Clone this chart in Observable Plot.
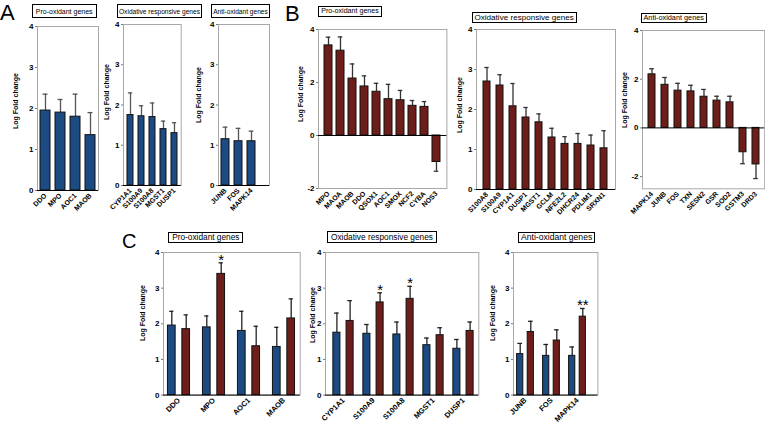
<!DOCTYPE html>
<html><head><meta charset="utf-8">
<script src="https://cdn.jsdelivr.net/npm/d3@7"></script>
<script src="https://cdn.jsdelivr.net/npm/@observablehq/plot@0.6"></script>
<style>
body{margin:0;background:#fff;}
#fig{position:relative;width:765px;height:422px;overflow:hidden;background:#fff;font-family:"Liberation Sans",Arial,sans-serif;}
.title{position:absolute;border:1px solid #000;box-sizing:border-box;display:flex;align-items:center;justify-content:center;white-space:nowrap;background:#fff;color:#000;font-weight:normal;}
.ylab{position:absolute;transform:translate(-50%,-50%) rotate(-90deg);font-weight:bold;font-size:7px;white-space:nowrap;color:#000;}
.letter{position:absolute;line-height:1.15;color:#000;font-weight:normal;}
</style></head>
<body><div id="fig"></div>
<script>
// ---------- data ----------
const aProGenes = ["DDO","MPO","AOC1","MAOB"];
const aProValues = [1.95,1.90,1.80,1.35];
const aProErrors = [0.40,0.32,0.55,0.55];
const aOxiGenes = ["CYP1A1","S100A9","S100A8","MGST1","DUSP1"];
const aOxiValues = [1.75,1.72,1.70,1.40,1.30];
const aOxiErrors = [0.55,0.26,0.35,0.20,0.26];
const aAntiGenes = ["JUNB","FOS","MAPK14"];
const aAntiValues = [1.15,1.10,1.10];
const aAntiErrors = [0.30,0.32,0.25];

const bProGenes = ["MPO","MAOA","MAOB","DDO","QSOX1","AOC1","SMOX","NCF2","CYBA","NOS3"];
const bProValues = [3.40,3.20,2.15,1.85,1.65,1.37,1.33,1.12,1.08,-1.00];
const bProErrors = [0.31,0.52,0.55,0.40,0.32,0.56,0.37,0.20,0.20,0.35];
const bOxiGenes = ["S100A8","S100A9","CYP1A1","DUSP1","MGST1","GCLM","NFE2L2","DHCR24","PDLIM1","SRXN1"];
const bOxiValues = [2.70,2.60,2.08,1.80,1.68,1.30,1.14,1.14,1.10,1.03];
const bOxiErrors = [0.35,0.27,0.57,0.25,0.21,0.23,0.18,0.26,0.26,0.44];
const bAntiGenes = ["MAPK14","JUNB","FOS","TXN","SESN2","GSR","SOD2","GSTM3","DRD3"];
const bAntiValues = [2.20,1.77,1.53,1.50,1.28,1.12,1.05,-1.00,-1.50];
const bAntiErrors = [0.23,0.30,0.30,0.25,0.30,0.18,0.25,0.47,0.58];

const cProStars = ["","*","",""];
const cOxiStars = ["","*","*","",""];
const cAntiStars = ["","","**"];

const yTicks04 = [0,1,2,3,4];
const yTicksB = [-2,0,2,4];
const yLabel = "Log Fold change";

// ---------- helpers ----------
const BLUE = "#1c4a82", RED = "#6d1e1b";
const fig = document.getElementById("fig");
const M = {top: 10, right: 8, bottom: 45, left: 28};
const STYLE = {background:"transparent", overflow:"visible", fontFamily:"'Liberation Sans', Arial, sans-serif", fontWeight:"bold", fontSize:"8px", color:"#000"};

function rows(genes, values, errors, stars) {
  return genes.map((g, i) => ({gene: g, value: values[i], hi: values[i] + Math.sign(values[i]) * errors[i], star: stars ? stars[i] : ""}));
}
function mount(svg, l, t) {
  svg.style.position = "absolute";
  svg.style.left = (l - M.left) + "px";
  svg.style.top = (t - M.top) + "px";
  fig.appendChild(svg);
}
function axes(yTicks, xFont) {
  return [
    Plot.axisY({ticks: yTicks, tickSize: 2, tickPadding: 2, tickFormat: d => String(d), stroke: "#777", fill: "#000", fontSize: 8, fontWeight: "bold", label: null}),
    Plot.axisX({tickRotate: -45, tickSize: 0, tickPadding: 4, fontSize: xFont, fontWeight: "bold", fill: "#000", label: null})
  ];
}

function simplePanel({genes, values, errors, color, frame, span, yDomain, yTicks, pad, errColor, xFont}) {
  const [l, r, t, b] = frame;
  const data = rows(genes, values, errors);
  const sp = span || [l, r];
  const range = [M.left + sp[0] - l, M.left + sp[1] - l];
  const step = (range[1] - range[0]) / genes.length;
  const bw = step * (1 - pad);
  const capIn = Math.max(0, (bw - 5) / 2);
  const svg = Plot.plot({
    width: r - l + M.left + M.right, height: b - t + M.top + M.bottom,
    marginTop: M.top, marginRight: M.right, marginBottom: M.bottom, marginLeft: M.left,
    style: STYLE,
    x: {type: "band", domain: genes, range, paddingInner: pad, paddingOuter: pad / 2},
    y: {domain: yDomain},
    marks: [
      Plot.frame({stroke: "#a8a8a8"}),
      Plot.ruleX(data, {x: "gene", y1: "value", y2: "hi", stroke: errColor, strokeWidth: 1.3}),
      Plot.tickY(data, {x: "gene", y: "hi", stroke: errColor, strokeWidth: 1.3, inset: capIn}),
      Plot.barY(data, {x: "gene", y1: 0, y2: "value", fill: color, stroke: "#111", strokeWidth: 1}),
      Plot.ruleY([0], {stroke: "#000", strokeWidth: 1}),
      ...axes(yTicks, xFont)
    ]
  });
  mount(svg, l, t);
}

function lookup(genes, srcGenes, srcValues, srcErrors) {
  const vals = genes.map(g => srcValues[srcGenes.indexOf(g)]);
  const errs = genes.map(g => srcErrors[srcGenes.indexOf(g)]);
  return [vals, errs];
}

function groupPanel({genes, blue, red, stars, frame, span, barW, off, xFont}) {
  const [l, r, t, b] = frame;
  const dBlue = rows(genes, blue[0], blue[1]);
  const dRed = rows(genes, red[0], red[1], stars);
  const sp = span || [l, r];
  const range = [M.left + sp[0] - l, M.left + sp[1] - l];
  const step = (range[1] - range[0]) / genes.length;
  const ins = (step - barW) / 2;
  const capIn = (step - 5) / 2;
  const series = [[dBlue, BLUE, -off], [dRed, RED, off]];
  const marks = [Plot.frame({stroke: "#a8a8a8"})];
  for (const [d, c, dx] of series) {
    marks.push(
      Plot.ruleX(d, {x: "gene", y1: "value", y2: "hi", dx, stroke: "#222", strokeWidth: 1.3}),
      Plot.tickY(d, {x: "gene", y: "hi", dx, stroke: "#222", strokeWidth: 1.3, inset: capIn}),
      Plot.barY(d, {x: "gene", y1: 0, y2: "value", dx, fill: c, stroke: "#111", strokeWidth: 1, insetLeft: ins, insetRight: ins})
    );
  }
  marks.push(
    Plot.text(dRed.filter(d => d.star), {x: "gene", y: "hi", text: "star", dx: off, dy: 2, lineAnchor: "bottom", fontSize: 15, fontWeight: "normal", fill: "#000"}),
    Plot.ruleY([0], {stroke: "#000", strokeWidth: 1}),
    ...axes(yTicks04, xFont)
  );
  const svg = Plot.plot({
    width: r - l + M.left + M.right, height: b - t + M.top + M.bottom,
    marginTop: M.top, marginRight: M.right, marginBottom: M.bottom, marginLeft: M.left,
    style: STYLE,
    x: {type: "band", domain: genes, range, paddingInner: 0, paddingOuter: 0},
    y: {domain: [0, 4]},
    marks
  });
  mount(svg, l, t);
}

function title(text, x, y, w, h, fs) {
  const d = document.createElement("div");
  d.className = "title";
  Object.assign(d.style, {left: x + "px", top: y + "px", width: w + "px", height: h + "px", fontSize: fs + "px"});
  d.textContent = text;
  fig.appendChild(d);
}
function ylab(x, y) {
  const d = document.createElement("div");
  d.className = "ylab";
  Object.assign(d.style, {left: x + "px", top: y + "px"});
  d.textContent = yLabel;
  fig.appendChild(d);
}
function letter(text, x, y, fs) {
  const d = document.createElement("div");
  d.className = "letter";
  Object.assign(d.style, {left: x + "px", top: y + "px", fontSize: fs + "px"});
  d.textContent = text;
  fig.appendChild(d);
}

// ---------- Panel A ----------
simplePanel({genes: aProGenes, values: aProValues, errors: aProErrors, color: BLUE, frame: [37.3, 98.3, 26, 190], yDomain: [0, 4], yTicks: yTicks04, pad: 0.34, errColor: "#555", xFont: 7});
simplePanel({genes: aOxiGenes, values: aOxiValues, errors: aOxiErrors, color: BLUE, frame: [123.3, 181, 24, 185], yDomain: [0, 4], yTicks: yTicks04, pad: 0.42, errColor: "#555", xFont: 7});
simplePanel({genes: aAntiGenes, values: aAntiValues, errors: aAntiErrors, color: BLUE, frame: [218.3, 269.3, 24, 185], span: [218.3, 259], yDomain: [0, 4], yTicks: yTicks04, pad: 0.39, errColor: "#555", xFont: 7});

// ---------- Panel B ----------
simplePanel({genes: bProGenes, values: bProValues, errors: bProErrors, color: RED, frame: [318.3, 446.7, 29.3, 188.3], yDomain: [-2, 4], yTicks: yTicksB, pad: 0.34, errColor: "#333", xFont: 7});
simplePanel({genes: bOxiGenes, values: bOxiValues, errors: bOxiErrors, color: RED, frame: [476, 615, 29.3, 189.3], yDomain: [0, 4], yTicks: yTicks04, pad: 0.45, errColor: "#333", xFont: 7});
simplePanel({genes: bAntiGenes, values: bAntiValues, errors: bAntiErrors, color: RED, frame: [642.3, 764.5, 30, 188.3], yDomain: [-2.5, 4], yTicks: yTicksB, pad: 0.46, errColor: "#333", xFont: 7});

// ---------- Panel C ----------
groupPanel({genes: aProGenes, blue: [aProValues, aProErrors], red: lookup(aProGenes, bProGenes, bProValues, bProErrors), stars: cProStars, frame: [163.3, 300, 251.7, 394.3], span: [159.6, 302.8], barW: 8.5, off: 7.2, xFont: 7.5});
groupPanel({genes: aOxiGenes, blue: [aOxiValues, aOxiErrors], red: lookup(aOxiGenes, bOxiGenes, bOxiValues, bOxiErrors), stars: cOxiStars, frame: [325, 478.3, 251.7, 394.3], span: [326.4, 478.6], barW: 7.5, off: 6.6, xFont: 7.5});
groupPanel({genes: aAntiGenes, blue: [aAntiValues, aAntiErrors], red: lookup(aAntiGenes, bAntiGenes, bAntiValues, bAntiErrors), stars: cAntiStars, frame: [513.3, 597.7, 251.7, 394.3], span: [512.2, 591.1], barW: 6.5, off: 5.3, xFont: 7.5});

// ---------- titles, labels, letters ----------
title("Pro-oxidant genes", 31.7, 4, 65, 14.3, 7);
title("Oxidative responsive genes", 117.3, 4, 84.4, 14, 6.6);
title("Anti-oxidant genes", 211, 4, 59, 14, 6.6);
title("Pro-oxidant genes", 318.3, 6, 63.4, 10.7, 7.1);
title("Oxidative responsive genes", 471.7, 11.7, 105, 11, 8.1);
title("Anti-oxidant genes", 640.7, 12.7, 66, 10, 7.3);
title("Pro-oxidant genes", 168.3, 231.7, 75, 11, 8.3);
title("Oxidative responsive genes", 327.3, 231, 109.4, 12.3, 8.3);
title("Anti-oxidant genes", 518.3, 231.7, 76.7, 11.6, 8.6);

ylab(15, 101); ylab(106, 92); ylab(198, 95);
ylab(300, 94); ylab(459, 105); ylab(624, 100);
ylab(142, 313); ylab(312, 315); ylab(492, 313);

letter("A", 0, 0, 22);
letter("B", 285, 1, 22);
letter("C", 122, 229.5, 20);
</script>
</body></html>
